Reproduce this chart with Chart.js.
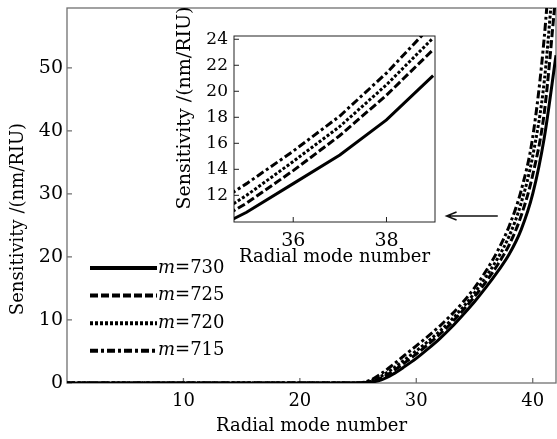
<!DOCTYPE html>
<html>
<head>
<meta charset="utf-8">
<script src="https://cdn.jsdelivr.net/npm/chart.js@4.4.1/dist/chart.umd.min.js"></script>
<style>
  html, body { margin: 0; padding: 0; background: #fff; }
  #wrap { position: relative; width: 557px; height: 439px; }
  #main { position: absolute; left: 0; top: 0; }
  #inset { position: absolute; left: 160px; top: 0; }
</style>
</head>
<body>
<div id="wrap">
  <canvas id="main" width="557" height="439"></canvas>
  <canvas id="inset" width="290" height="290"></canvas>
</div>
<script>
// radial mode number (x), main plot
const modes = [0, 1, 2, 3, 4, 5, 6, 7, 8, 9, 10, 11, 12, 13, 14, 15, 16, 17, 18, 19, 20,
  21, 22, 23, 24, 25, 26, 27, 28, 29, 30, 31, 32, 33, 34, 35, 36, 37, 38, 39, 40, 41, 42];

// sensitivity (nm/RIU), main plot, one list per m
const s730 = [0, 0, 0, 0, 0, 0, 0, 0, 0, 0, 0, 0, 0, 0, 0, 0, 0, 0, 0, 0, 0,
  0, 0, 0, 0, 0, 0.1, 0.5, 1.4, 2.6, 3.9, 5.4, 7.0, 8.8, 10.8, 12.9, 15.2, 17.7, 20.5, 24.3, 30, 39, 52];
const s725 = [0, 0, 0, 0, 0, 0, 0, 0, 0, 0, 0, 0, 0, 0, 0, 0, 0, 0, 0, 0, 0,
  0, 0, 0, 0, 0, 0.2, 0.8, 1.9, 3.2, 4.6, 6.1, 7.7, 9.5, 11.5, 13.7, 16.1, 18.8, 22.0, 26.5, 33, 43, 62];
const s720 = [0, 0, 0, 0, 0, 0, 0, 0, 0, 0, 0, 0, 0, 0, 0, 0, 0, 0, 0, 0, 0,
  0, 0, 0, 0, 0, 0.3, 1.1, 2.3, 3.7, 5.1, 6.6, 8.2, 10.0, 12.0, 14.3, 16.9, 19.8, 23.4, 28.5, 36, 48, 70];
const s715 = [0, 0, 0, 0, 0, 0, 0, 0, 0, 0, 0, 0, 0, 0, 0, 0, 0, 0, 0, 0, 0,
  0, 0, 0, 0, 0, 0.4, 1.5, 2.9, 4.4, 5.9, 7.4, 9.0, 10.8, 12.8, 15.1, 17.8, 21.0, 25.0, 30.5, 39, 55, 80];

// inset (zoom on modes 35-39)
const insetModes = [34, 35, 36, 37, 38, 39];
const i730 = [8.9, 10.7, 12.9, 15.1, 17.8, 21.2];
const i725 = [9.3, 11.4, 13.9, 16.6, 19.7, 23.2];
const i720 = [9.7, 12.0, 14.6, 17.3, 20.5, 24.1];
const i715 = [10.6, 12.9, 15.4, 18.1, 21.4, 25.2];

const labels = ['m=730', 'm=725', 'm=720', 'm=715'];
const dashes = [[], [8, 3], [3, 2], [8, 3, 3, 3]];

const mainXTicks = [10, 20, 30, 40];
const mainYTicks = [0, 10, 20, 30, 40, 50];
const insetXTicks = [36, 38];
const insetYTicks = [12, 14, 16, 18, 20, 22, 24];

const FONT = 'DejaVu Serif';

function makeSets(xs, series, width, smooth) {
  return series.map((vals, i) => ({
    label: labels[i],
    data: xs.map((m, j) => ({ x: m, y: vals[j] })),
    borderColor: '#000',
    borderWidth: width,
    borderDash: dashes[i],
    pointRadius: 0,
    fill: false,
    cubicInterpolationMode: smooth ? 'monotone' : 'default',
    tension: 0
  }));
}

// box + inward tick marks, drawn under the curves
const framePlugin = {
  id: 'frame',
  beforeDatasetsDraw(chart, args, opts) {
    const { ctx, chartArea: a, scales } = chart;
    ctx.save();
    ctx.strokeStyle = opts.color;
    ctx.lineWidth = opts.width;
    ctx.strokeRect(a.left, a.top, a.right - a.left, a.bottom - a.top);
    ctx.beginPath();
    scales.x.ticks.forEach(t => {
      const px = scales.x.getPixelForValue(t.value);
      ctx.moveTo(px, a.bottom);
      ctx.lineTo(px, a.bottom - opts.tickLen);
    });
    scales.y.ticks.forEach(t => {
      const py = scales.y.getPixelForValue(t.value);
      ctx.moveTo(a.left, py);
      ctx.lineTo(a.left + opts.tickLen, py);
    });
    ctx.stroke();
    ctx.restore();
  }
};

// rotated y title, placed freely
const sideTitlePlugin = {
  id: 'sideTitle',
  afterDraw(chart, args, opts) {
    const ctx = chart.ctx;
    ctx.save();
    ctx.translate(opts.x, opts.y);
    ctx.rotate(-Math.PI / 2);
    ctx.font = opts.size + 'px "' + FONT + '"';
    ctx.fillStyle = '#000';
    ctx.textAlign = 'center';
    ctx.textBaseline = 'middle';
    ctx.fillText(opts.text, 0, 0);
    ctx.restore();
  }
};

// legend with italic m
const lineLegendPlugin = {
  id: 'lineLegend',
  afterDraw(chart, args, opts) {
    const ctx = chart.ctx;
    ctx.save();
    chart.data.datasets.forEach((ds, i) => {
      const y = opts.y + i * opts.gap;
      ctx.beginPath();
      ctx.setLineDash(ds.borderDash);
      ctx.lineWidth = opts.lineWidth;
      ctx.strokeStyle = '#000';
      ctx.moveTo(opts.x, y);
      ctx.lineTo(opts.x + opts.len, y);
      ctx.stroke();
      ctx.setLineDash([]);
      const parts = ds.label.split('=');
      ctx.fillStyle = '#000';
      ctx.textBaseline = 'middle';
      ctx.textAlign = 'left';
      let tx = opts.x + opts.len + 1;
      ctx.font = 'italic ' + opts.size + 'px "' + FONT + '"';
      ctx.fillText(parts[0], tx, y);
      tx += ctx.measureText(parts[0]).width;
      ctx.font = opts.size + 'px "' + FONT + '"';
      ctx.fillText('=' + parts[1], tx, y);
    });
    ctx.restore();
  }
};

// arrow pointing to the inset, given in data units
const arrowPlugin = {
  id: 'arrow',
  afterDraw(chart, args, opts) {
    const { ctx, scales } = chart;
    const x0 = scales.x.getPixelForValue(opts.from[0]);
    const y0 = scales.y.getPixelForValue(opts.from[1]);
    const x1 = scales.x.getPixelForValue(opts.to[0]);
    const y1 = scales.y.getPixelForValue(opts.to[1]);
    ctx.save();
    ctx.strokeStyle = '#111';
    ctx.lineWidth = 1.5;
    ctx.beginPath();
    ctx.moveTo(x0, y0);
    ctx.lineTo(x1, y1);
    ctx.moveTo(x1 + 10, y1 - 4);
    ctx.lineTo(x1, y1);
    ctx.lineTo(x1 + 10, y1 + 4);
    ctx.stroke();
    ctx.restore();
  }
};

function fixedTicks(list) {
  return s => { s.ticks = list.map(v => ({ value: v })); };
}

// keep the plot box exactly where the padding puts it
function fitX(h) {
  return s => { s.height = h; s.paddingLeft = 0; s.paddingRight = 0; };
}
function fitY(w) {
  return s => { s.width = w; s.paddingTop = 0; s.paddingBottom = 0; };
}

new Chart(document.getElementById('main'), {
  type: 'line',
  data: { datasets: makeSets(modes, [s730, s725, s720, s715], 3, true) },
  plugins: [framePlugin, sideTitlePlugin, lineLegendPlugin, arrowPlugin],
  options: {
    responsive: false,
    animation: false,
    events: [],
    layout: { padding: { top: 8, right: 1, left: 0, bottom: 0 } },
    plugins: {
      legend: { display: false },
      tooltip: { enabled: false },
      frame: { color: '#707070', width: 1.3, tickLen: 5 },
      sideTitle: { text: 'Sensitivity /(nm/RIU)', x: 18, y: 219, size: 18 },
      lineLegend: { x: 90, y: 268, gap: 27.6, len: 67, lineWidth: 4, size: 18 },
      arrow: { from: [37.0, 26.5], to: [32.6, 26.5] }
    },
    scales: {
      x: {
        type: 'linear', min: 0, max: 42,
        afterBuildTicks: fixedTicks(mainXTicks),
        afterFit: fitX(56),
        grid: { display: false, drawTicks: false },
        border: { display: false },
        ticks: { font: { family: FONT, size: 18 }, color: '#000', padding: 8, maxRotation: 0 },
        title: { display: true, text: 'Radial mode number', color: '#000',
          font: { family: FONT, size: 18 }, padding: { top: 0, bottom: 1.5 } }
      },
      y: {
        type: 'linear', min: 0, max: 59.5,
        afterBuildTicks: fixedTicks(mainYTicks),
        afterFit: fitY(67),
        grid: { display: false, drawTicks: false },
        border: { display: false },
        ticks: { font: { family: FONT, size: 19 }, color: '#000', padding: 4 }
      }
    }
  }
});

new Chart(document.getElementById('inset'), {
  type: 'line',
  data: { datasets: makeSets(insetModes, [i730, i725, i720, i715], 3, false) },
  plugins: [framePlugin, sideTitlePlugin],
  options: {
    responsive: false,
    animation: false,
    events: [],
    layout: { padding: { top: 36, right: 15, left: 0, bottom: 0 } },
    plugins: {
      legend: { display: false },
      tooltip: { enabled: false },
      frame: { color: '#222', width: 1, tickLen: 5 },
      sideTitle: { text: 'Sensitivity /(nm/RIU)', x: 25, y: 108, size: 19 }
    },
    scales: {
      x: {
        type: 'linear', min: 34.73, max: 39.04,
        afterBuildTicks: fixedTicks(insetXTicks),
        afterFit: fitX(68),
        grid: { display: false, drawTicks: false },
        border: { display: false },
        ticks: { font: { family: FONT, size: 19 }, color: '#000', padding: 8, maxRotation: 0 },
        title: { display: true, text: 'Radial mode number', color: '#000',
          font: { family: FONT, size: 18 }, padding: { top: 0, bottom: 21.5 } }
      },
      y: {
        type: 'linear', min: 9.95, max: 24.25,
        afterBuildTicks: fixedTicks(insetYTicks),
        afterFit: fitY(74),
        grid: { display: false, drawTicks: false },
        border: { display: false },
        ticks: { font: { family: FONT, size: 17 }, color: '#000', padding: 6 }
      }
    }
  }
});
</script>
</body>
</html>
